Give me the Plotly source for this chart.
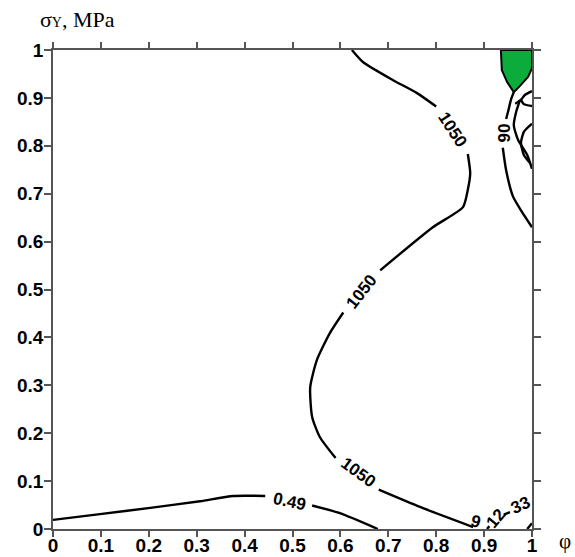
import plotly.graph_objects as go

# ---- data (x = phi, y = sigma_Y normalised) ----
tick_vals = [0, 0.1, 0.2, 0.3, 0.4, 0.5, 0.6, 0.7, 0.8, 0.9, 1]
tick_text = ["0", "0.1", "0.2", "0.3", "0.4", "0.5", "0.6", "0.7", "0.8", "0.9", "1"]

# contour "1050" (None = gap left for a label)
c1050_x = [0.624, 0.647, 0.710, 0.760, 0.800, None, 0.866, 0.871, 0.866, 0.856, 0.793, 0.683, None,
           0.606, 0.578, 0.551, 0.537, 0.541, 0.557, 0.590, None, 0.680, 0.766, 0.877]
c1050_y = [1.000, 0.975, 0.937, 0.910, 0.882, None, 0.783, 0.743, 0.708, 0.672, 0.630, 0.540, None,
           0.452, 0.409, 0.353, 0.296, 0.234, 0.192, 0.148, None, 0.082, 0.046, 0.004]

# contour "0.49"
c049_x = [0.000, 0.098, 0.203, 0.307, 0.376, 0.443, None, 0.541, 0.599, 0.678]
c049_y = [0.019, 0.031, 0.044, 0.058, 0.069, 0.069, None, 0.049, 0.033, 0.000]

# contours "12" / "33" near bottom-right corner
c33_x = [0.906, 0.911, None, 0.941, 0.954, None, 1.000]
c33_y = [0.000, 0.006, None, 0.030, 0.035, None, 0.042]
ccorner_x = [0.990, 1.000]
ccorner_y = [0.000, 0.012]

# contour "90" and neighbours near the top-right corner
c90_x = [0.962, 0.956, 0.950, 0.946, None, 0.939, 0.946, 0.960, 0.979, 1.000]
c90_y = [0.912, 0.896, 0.871, 0.856, None, 0.796, 0.749, 0.695, 0.662, 0.630]
cB_x = [0.975, 0.967, 0.962, 0.971, 0.990, 1.000]
cB_y = [0.896, 0.871, 0.843, 0.812, 0.781, 0.752]
cC_x = [1.000, 0.985, 0.977, 0.965, None, 0.977, 0.983, 1.000]
cC_y = [0.914, 0.906, 0.896, 0.888, None, 0.896, 0.887, 0.883]
cD_x = [1.000, 0.983, 0.977, 0.983, 0.996]
cD_y = [0.846, 0.829, 0.806, 0.781, 0.764]

# green filled region
green_x = [0.935, 0.937, 0.948, 0.962, 0.975, 0.992, 1.000, 1.000, 0.935]
green_y = [1.000, 0.958, 0.933, 0.912, 0.925, 0.944, 0.962, 1.000, 1.000]

# contour labels
lab_text = ["1050", "1050", "1050", "0.49", "9", "12", "33", "90"]
lab_x = [0.833, 0.645, 0.637, 0.493, 0.881, 0.925, 0.975, 0.942]
lab_y = [0.833, 0.495, 0.117, 0.058, 0.016, 0.021, 0.050, 0.826]
lab_angle = [57, -52, 36, 12, 15, -50, -25, -90]

fig = go.Figure()

fig.add_trace(go.Scatter(x=green_x, y=green_y, mode="lines", fill="toself",
                         fillcolor="#0bab3c", line=dict(color="black", width=2),
                         hoverinfo="skip"))

for xs, ys in [(c1050_x, c1050_y), (c049_x, c049_y), (c33_x, c33_y),
               (ccorner_x, ccorner_y), (c90_x, c90_y), (cB_x, cB_y),
               (cC_x, cC_y), (cD_x, cD_y)]:
    fig.add_trace(go.Scatter(x=xs, y=ys, mode="lines",
                             line=dict(color="black", width=2.4, shape="spline", smoothing=0.6),
                             connectgaps=False, hoverinfo="skip"))

for t, x, y, a in zip(lab_text, lab_x, lab_y, lab_angle):
    fig.add_annotation(x=x, y=y, text=t, textangle=a, showarrow=False,
                       font=dict(family="Liberation Sans, Arial", size=17, color="black",
                                 weight="bold"),
                       xanchor="center", yanchor="middle")

fig.add_annotation(xref="paper", yref="paper", x=-0.031, y=1.063,
                   text='σ<span style="font-size:14px">Y</span>, MPa', showarrow=False,
                   xanchor="left", yanchor="middle",
                   font=dict(family="Liberation Serif, Times New Roman", size=22, color="black"))
fig.add_annotation(xref="paper", yref="paper", x=1.069, y=-0.026,
                   text="φ", showarrow=False, xanchor="center", yanchor="middle",
                   font=dict(family="Liberation Serif, Times New Roman", size=21, color="black"))

axis_common = dict(range=[0, 1], tickvals=tick_vals, ticktext=tick_text,
                   ticks="outside", tickwidth=1.5, tickcolor="#555555",
                   showline=True, linecolor="#555555", linewidth=1.5, mirror="ticks",
                   showgrid=False, zeroline=False, automargin=False,
                   tickfont=dict(family="Liberation Sans, Arial", size=19, color="black",
                                 weight="bold"))

fig.update_xaxes(**axis_common, ticklen=6, ticklabelstandoff=-8)
fig.update_yaxes(**axis_common, ticklen=7, ticklabelstandoff=-3)

fig.update_layout(template="none", width=575, height=557, showlegend=False,
                  margin=dict(l=53, r=43, t=50, b=28, autoexpand=False),
                  plot_bgcolor="white", paper_bgcolor="white")

fig.write_html("out.html")
